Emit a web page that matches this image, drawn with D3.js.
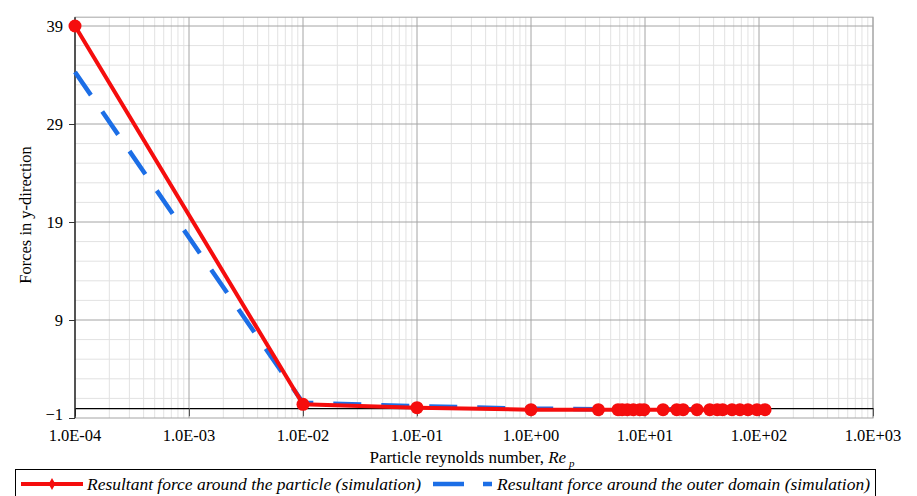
<!DOCTYPE html>
<html>
<head>
<meta charset="utf-8">
<script src="https://cdn.jsdelivr.net/npm/d3@7"></script>
<style>
  html, body { margin: 0; padding: 0; background: #fff; }
  svg { display: block; }
  text { font-family: "Liberation Serif", "Times New Roman", serif; fill: #000; }
</style>
</head>
<body>
<svg id="chart" width="917" height="496"></svg>
<script>
// ---- data ----
const reynolds = [1e-4, 1e-2, 1e-1, 1, 3.9, 5.8, 6.3, 7, 7.9, 9, 9.8, 14.4, 19, 21.6, 28.6, 37, 43, 48, 58, 68, 80, 96, 113];
const forceParticle = [39, 0.4, 0.05, -0.15, -0.15, -0.15, -0.15, -0.15, -0.15, -0.15, -0.15, -0.15, -0.15, -0.15, -0.15, -0.15, -0.15, -0.15, -0.15, -0.15, -0.15, -0.15, -0.15];
const forceOuter = [34.3, 0.55, 0.2, -0.05, -0.1, -0.1, -0.1, -0.1, -0.1, -0.1, -0.1, -0.1, -0.1, -0.1, -0.1, -0.1, -0.1, -0.1, -0.1, -0.1, -0.1, -0.1, -0.1];
const xTickValues = [1e-4, 1e-3, 1e-2, 1e-1, 1e0, 1e1, 1e2, 1e3];
const xTickLabels = ["1.0E-04", "1.0E-03", "1.0E-02", "1.0E-01", "1.0E+00", "1.0E+01", "1.0E+02", "1.0E+03"];
const yTickValues = [-1, 9, 19, 29, 39];
const seriesNames = ["Resultant force around the particle (simulation)", "Resultant force around the outer domain (simulation)"];

// ---- layout ----
const svg = d3.select("#chart");
const left = 75, right = 873;
const x = d3.scaleLog().domain([1e-4, 1e3]).range([left, right]);
const y = d3.scaleLinear().domain([-1, 39]).range([418, 26]);
const yTop = y(39.9);
const red = "#f50d0d", blue = "#1c6ee6";

// minor grid
const minorX = [];
for (let e = -4; e < 3; e++) for (let m = 2; m <= 9; m++) minorX.push(m * Math.pow(10, e));
svg.append("g").selectAll("line").data(minorX).join("line")
  .attr("x1", d => x(d)).attr("x2", d => x(d)).attr("y1", yTop).attr("y2", y(-1))
  .attr("stroke", "#e2e2e2").attr("stroke-width", 1);
const minorY = d3.range(1, 39, 2).filter(v => !yTickValues.includes(v));
svg.append("g").selectAll("line").data(minorY).join("line")
  .attr("x1", left).attr("x2", right).attr("y1", d => y(d)).attr("y2", d => y(d))
  .attr("stroke", "#e2e2e2").attr("stroke-width", 1);

// major grid
svg.append("g").selectAll("line").data(xTickValues.slice(1)).join("line")
  .attr("x1", d => x(d)).attr("x2", d => x(d)).attr("y1", yTop).attr("y2", y(-1))
  .attr("stroke", "#a4a4a4").attr("stroke-width", 1);
svg.append("g").selectAll("line").data(yTickValues.slice(1)).join("line")
  .attr("x1", left).attr("x2", right).attr("y1", d => y(d)).attr("y2", d => y(d))
  .attr("stroke", "#a4a4a4").attr("stroke-width", 1);

// plot border
svg.append("rect").attr("x", left).attr("y", yTop).attr("width", right - left).attr("height", y(-1) - yTop)
  .attr("fill", "none").attr("stroke", "#a4a4a4").attr("stroke-width", 1);

// x axis line at y = 0
const xAxis = svg.append("g").attr("transform", `translate(0,${y(0)})`)
  .call(d3.axisBottom(x).tickValues(xTickValues).tickSize(8).tickSizeOuter(0).tickFormat(""));
xAxis.select(".domain").attr("stroke", "#000").attr("stroke-width", 1.2);
xAxis.selectAll(".tick line").attr("stroke", "#555");

// x tick labels
svg.append("g").selectAll("text").data(xTickValues).join("text")
  .attr("x", d => x(d)).attr("y", 441).attr("text-anchor", "middle")
  .style("font-size", "16.5px").text((d, i) => xTickLabels[i]);

// y axis
const yAxis = svg.append("g").attr("transform", `translate(${left},0)`)
  .call(d3.axisLeft(y).tickValues(yTickValues).tickSize(6).tickSizeOuter(0).tickPadding(6));
yAxis.select(".domain").attr("stroke", "#000").attr("stroke-width", 1.2).attr("d", `M0,${yTop}V${y(-1)}`);
yAxis.selectAll(".tick line").attr("stroke", "#333");
yAxis.selectAll(".tick text").style("font-size", "16.5px").style("font-family", "Liberation Serif, serif")
  .attr("fill", "#000").attr("dy", d => d === -1 ? "0.1em" : "0.32em");

// axis titles
const xt = svg.append("text").attr("x", 472).attr("y", 463).attr("text-anchor", "middle").style("font-size", "17px");
xt.append("tspan").text("Particle reynolds number, ");
xt.append("tspan").style("font-style", "italic").text("Re");
xt.append("tspan").style("font-style", "italic").style("font-size", "11px").attr("dx", 3).attr("dy", 4).text("p");

svg.append("text").attr("transform", "translate(26,215) rotate(-90)").attr("text-anchor", "middle")
  .attr("dy", "0.32em").style("font-size", "16.5px").text("Forces in y-direction");

// series
const pts1 = reynolds.map((r, i) => [r, forceParticle[i]]);
const pts2 = reynolds.map((r, i) => [r, forceOuter[i]]);
const line = d3.line().x(d => x(d[0])).y(d => y(d[1]));

svg.append("path").datum(pts2).attr("d", line).attr("fill", "none")
  .attr("stroke", blue).attr("stroke-width", 4.5).attr("stroke-dasharray", "28,20");
svg.append("path").datum(pts1).attr("d", line).attr("fill", "none")
  .attr("stroke", red).attr("stroke-width", 4);
svg.append("g").selectAll("circle").data(pts1).join("circle")
  .attr("cx", d => x(d[0])).attr("cy", d => y(d[1])).attr("r", 6.5).attr("fill", red);

// legend
svg.append("rect").attr("x", 15.5).attr("y", 469.5).attr("width", 860).attr("height", 40)
  .attr("fill", "#fff").attr("stroke", "#000").attr("stroke-width", 1);
svg.append("line").attr("x1", 21).attr("x2", 83).attr("y1", 484).attr("y2", 484)
  .attr("stroke", red).attr("stroke-width", 4);
svg.append("path").attr("d", d3.symbol(d3.symbolDiamond, 40)()).attr("transform", "translate(52,484)").attr("fill", red);
svg.append("text").attr("x", 87).attr("y", 490).style("font-size", "17px").style("font-style", "italic")
  .attr("textLength", 334).attr("lengthAdjust", "spacingAndGlyphs").text(seriesNames[0]);
svg.append("line").attr("x1", 433).attr("x2", 492).attr("y1", 484).attr("y2", 484)
  .attr("stroke", blue).attr("stroke-width", 4.5).attr("stroke-dasharray", "31,19");
svg.append("text").attr("x", 497).attr("y", 490).style("font-size", "17px").style("font-style", "italic")
  .attr("textLength", 373).attr("lengthAdjust", "spacingAndGlyphs").text(seriesNames[1]);
</script>
</body>
</html>
